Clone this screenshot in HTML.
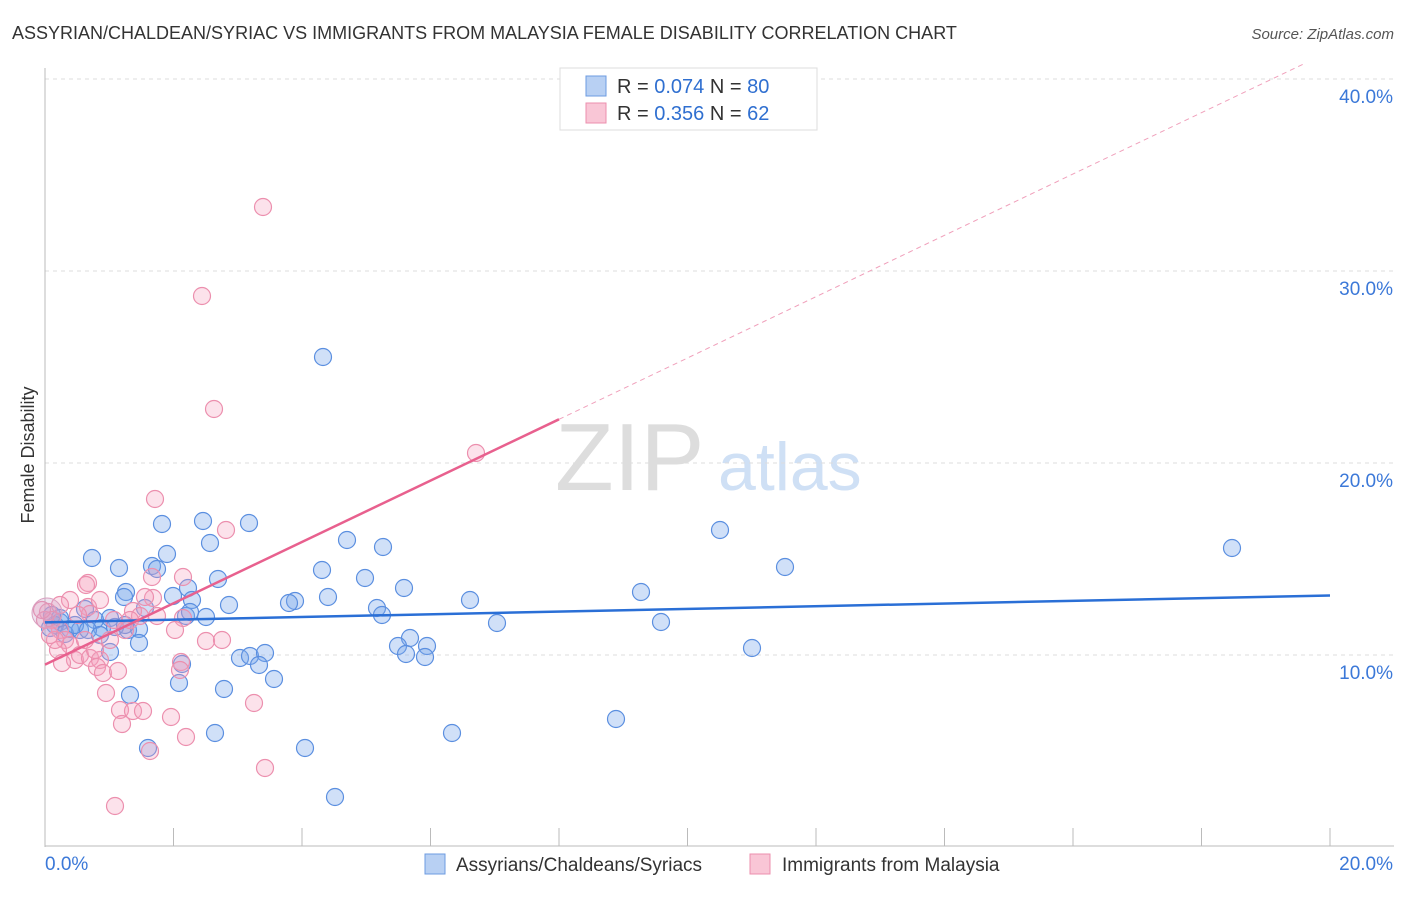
<!DOCTYPE html>
<html><head><meta charset="utf-8"><style>
body{margin:0;background:#fff;font-family:"Liberation Sans",sans-serif}
svg text{font-family:"Liberation Sans",sans-serif}
</style></head><body>
<svg id="c" width="1406" height="892">
<text x="12" y="39" font-size="18" fill="#333">ASSYRIAN/CHALDEAN/SYRIAC VS IMMIGRANTS FROM MALAYSIA FEMALE DISABILITY CORRELATION CHART</text>
<text x="1394" y="39" font-size="15" fill="#555" font-style="italic" text-anchor="end">Source: ZipAtlas.com</text>
<text transform="translate(34,455) rotate(-90)" font-size="18" fill="#333" text-anchor="middle">Female Disability</text>
<text x="555" y="490" font-size="96" fill="#ddd" font-family="Liberation Serif">ZIP</text>
<text x="718" y="490" font-size="68" fill="#cfe0f5">atlas</text>
<g id="grid"></g><g id="pts"></g><g id="lines"></g>
<g>
<rect x="560" y="68" width="257" height="62" fill="#fff" stroke="#ddd"/>
<rect x="586" y="76" width="20" height="20" fill="#b8d0f3" stroke="#6d9be0"/>
<rect x="586" y="103" width="20" height="20" fill="#f9c6d6" stroke="#ec8fae"/>
<text x="617" y="93" font-size="20" fill="#333">R = <tspan fill="#2f6fd0">0.074</tspan>   N = <tspan fill="#2f6fd0">80</tspan></text>
<text x="617" y="120" font-size="20" fill="#333">R = <tspan fill="#2f6fd0">0.356</tspan>   N = <tspan fill="#2f6fd0">62</tspan></text>
</g>
<g>
<rect x="425" y="854" width="20" height="20" fill="#b8d0f3" stroke="#6d9be0"/>
<text x="456" y="871" font-size="19" fill="#333">Assyrians/Chaldeans/Syriacs</text>
<rect x="750" y="854" width="20" height="20" fill="#f9c6d6" stroke="#ec8fae"/>
<text x="782" y="871" font-size="19" fill="#333">Immigrants from Malaysia</text>
</g>
</svg>
<script>
const xTicks=[0,20];
const yTicks=[10,20,30,40];
const blueX=[323,720,785,1232,203,249,162,210,347,383,92,167,119,152,157,322,365,218,404,641,126,173,124,188,192,229,295,289,328,470,377,382,85,206,186,145,497,661,128,139,102,110,60,70,80,55,410,398,427,406,425,752,240,250,265,259,139,110,182,274,179,224,130,616,452,215,148,305,335,95,115,50,65,75,88,100,125,190,52,60].map(p=>(p-45)/64.25);
const blueY=[357,530,567,548,521,523,524,543,540,547,558,554,568,566,569,570,578,579,588,592,592,596,597,588,600,605,601,603,597,600,608,615,609,617,616,608,623,622,630,629,628,618,622,629,630,625,638,646,646,654,657,648,658,656,653,665,643,652,664,679,683,689,695,719,733,733,748,748,797,620,627,628,634,625,630,635,625,612,615,618].map(p=>10+(655-p)/19.2);
const pinkX=[263,202,214,476,155,226,152,183,88,86,153,145,133,183,175,157,140,114,88,90,48,52,60,65,70,75,58,62,80,90,100,97,103,118,181,180,206,222,106,120,133,143,122,171,254,186,150,265,115,70,78,55,45,60,110,125,95,85,42,50,100,130].map(p=>(p-45)/64.25);
const pinkY=[207,296,409,453,499,530,577,577,583,585,598,597,611,618,630,616,616,620,607,614,612,620,630,640,645,660,650,663,655,658,660,667,673,671,662,670,641,640,693,710,711,711,724,717,703,737,751,768,806,600,615,640,620,605,640,630,650,640,610,635,600,620].map(p=>10+(655-p)/19.2);
const blueLine=[11.7,13.1];
const pinkLine=[9.5,40.8];
const xs=v=>45+v*64.25, ys=v=>655-(v-10)*19.2;
const NS='http://www.w3.org/2000/svg';
function mk(t,a,p){const e=document.createElementNS(NS,t);for(const k in a)e.setAttribute(k,a[k]);p.appendChild(e);return e;}
const g=document.getElementById('grid');
yTicks.forEach(v=>{
const l=mk('line',{x1:45,x2:1394,y1:ys(v),y2:ys(v),stroke:'#ddd','stroke-dasharray':'4,4'},g);


const t=mk('text',{x:1393,y:ys(v)+24,'font-size':19,fill:'#3b78d8','text-anchor':'end'},g);t.textContent=v.toFixed(1)+'%';


});
mk('line',{x1:45,x2:45,y1:68,y2:847,stroke:'#bbb'},g);
mk('line',{x1:45,x2:1394,y1:846,y2:846,stroke:'#bbb'},g);
for(let i=0;i<=10;i++){mk('line',{x1:45+i*128.5,x2:45+i*128.5,y1:828,y2:846,stroke:'#bbb'},g);}
xTicks.forEach((v,i)=>{const t=mk('text',{x:i?1393:45,y:870,'font-size':19,fill:'#3b78d8','text-anchor':i?'end':'start'},g);t.textContent=v.toFixed(1)+'%';

});
const P=document.getElementById('pts');
blueX.forEach((x,i)=>{const c=mk('circle',{cx:xs(x),cy:ys(blueY[i]),r:8.5,fill:'rgba(120,165,235,0.35)',stroke:'#5b8fe0','stroke-width':1.2},P);

});
pinkX.forEach((x,i)=>{const c=mk('circle',{cx:xs(x),cy:ys(pinkY[i]),r:8.5,fill:'rgba(245,160,190,0.3)',stroke:'#ec8fae','stroke-width':1.2},P);

});
const big=mk('circle',{cx:47,cy:613,r:15,fill:'rgba(200,160,200,0.3)',stroke:'#d9a0c0'},P);


const L=document.getElementById('lines');
const bl=mk('line',{x1:xs(0),y1:ys(blueLine[0]),x2:xs(20),y2:ys(blueLine[1]),stroke:'#2a6fd6','stroke-width':2.5},L);


const slope=(pinkLine[1]-pinkLine[0])/19.6, xe=8;
const pl=mk('line',{x1:xs(0),y1:ys(pinkLine[0]),x2:xs(xe),y2:ys(pinkLine[0]+slope*xe),stroke:'#e8608e','stroke-width':2.5},L);


const pd=mk('line',{x1:xs(xe),y1:ys(pinkLine[0]+slope*xe),x2:xs(19.6),y2:ys(pinkLine[1]),stroke:'#f0a0bb','stroke-width':1,'stroke-dasharray':'5,4'},L);


</script>
</body></html>
